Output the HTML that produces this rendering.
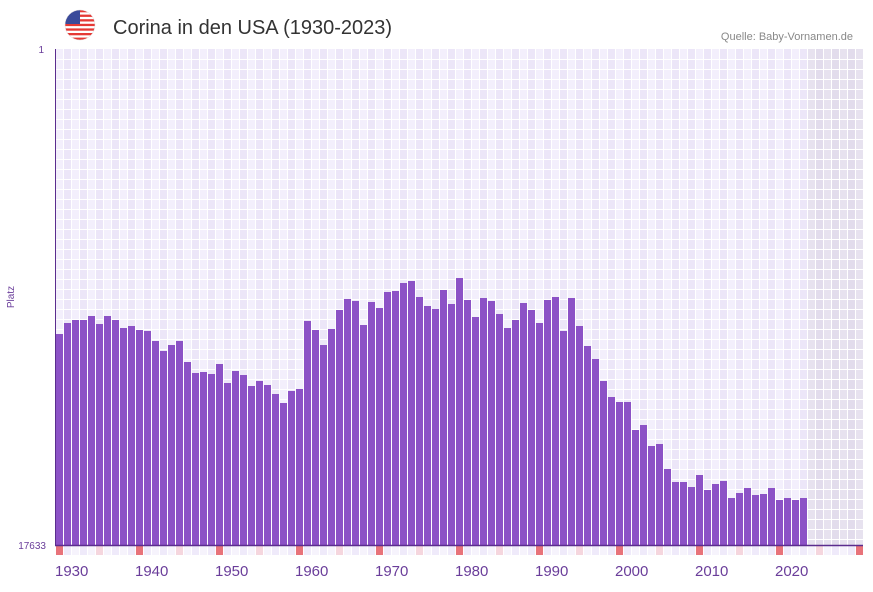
<!DOCTYPE html>
<html><head><meta charset="utf-8">
<style>
body{margin:0;width:873px;height:587px;background:#fff;overflow:hidden;font-family:"Liberation Sans",sans-serif}
</style></head><body>
<svg id="s" width="873" height="587" xmlns="http://www.w3.org/2000/svg" font-family="Liberation Sans, sans-serif">
<defs>
<clipPath id="fc"><circle cx="80" cy="25" r="15"/></clipPath>
</defs>
<g clip-path="url(#fc)">
<rect x="65" y="10" width="30" height="30" fill="#fff"/>
<rect x="65" y="10" width="30" height="2.3" fill="#e53935"/>
<rect x="65" y="14.6" width="30" height="2.3" fill="#e53935"/>
<rect x="65" y="19.2" width="30" height="2.3" fill="#e53935"/>
<rect x="65" y="23.8" width="30" height="2.3" fill="#e53935"/>
<rect x="65" y="28.4" width="30" height="2.3" fill="#e53935"/>
<rect x="65" y="33" width="30" height="2.3" fill="#e53935"/>
<rect x="65" y="37.6" width="30" height="2.4" fill="#e53935"/>
<rect x="65" y="10" width="15" height="14" fill="#3a4a9a"/>
</g>
<circle cx="80" cy="25" r="15" fill="none" stroke="#ddd" stroke-width="0.5"/>
<text x="113" y="34" font-size="20" fill="#333">Corina in den USA (1930-2023)</text>
<text x="853" y="40" font-size="11" fill="#888" text-anchor="end">Quelle: Baby-Vornamen.de</text>
<text x="44" y="53" font-size="10" fill="#6a3d9a" text-anchor="end">1</text>
<text x="46" y="549" font-size="10" fill="#6a3d9a" text-anchor="end">17633</text>
<text x="14" y="297" font-size="10" fill="#6a3d9a" text-anchor="middle" transform="rotate(-90 14 297)">Platz</text>
<g id="g"></g>
<line x1="55.5" y1="49" x2="55.5" y2="546" stroke="#5b2d8e" stroke-width="1"/>
<line x1="55" y1="545.5" x2="863" y2="545.5" stroke="#5b2d8e" stroke-width="1.5"/>
</svg>
<script>
var t=[334,323,320,320,316,324,316,320,328,326,330,331,341,351,345,341,362,373,372,374,364,383,371,375,386,381,385,394,403,391,389,321,330,345,329,310,299,301,325,302,308,292,291,283,281,297,306,309,290,304,278,300,317,298,301,314,328,320,303,310,323,300,297,331,298,326,346,359,381,397,402,402,430,425,446,444,469,482,482,487,475,490,484,481,498,493,488,495,494,488,500,498,500,498];
var h='';
for(var i=0;i<101;i++){var x=55+i*8;var c=(i%2?'#ece6f8':'#f3effc');if(i>=94)c=(i%2?'#e2dcec':'#e7e2ef');
h+='<rect x="'+x+'" y="49" width="8" height="496" fill="'+c+'"/>';}
for(var i=0;i<=101;i++){h+='<rect x="'+(55+i*8)+'" y="49" width="1" height="496" fill="#fff"/>';}
for(var y=59;y<545;y+=10){h+='<rect x="55" y="'+y+'" width="808" height="1" fill="#fff"/>';}
for(var i=0;i<t.length;i++){h+='<rect x="'+(56+i*8)+'" y="'+t[i]+'" width="7" height="'+(545-t[i])+'" fill="#8c52c6"/>';}
for(var i=0;i<101;i++){var x=56+i*8;var c=(i%10==0)?'#e8737a':(i%5==0)?'#f5d6de':(i%2?'#efeafa':'#f6f3fc');
h+='<rect x="'+x+'" y="546" width="7" height="9" fill="'+c+'"/>';}
for(var d=0;d<10;d++){h+='<text x="'+(55+d*80)+'" y="576" font-size="15" fill="#6a3d9a">'+(1930+d*10)+'</text>';}
document.getElementById('g').innerHTML=h;
</script>
</body></html>
